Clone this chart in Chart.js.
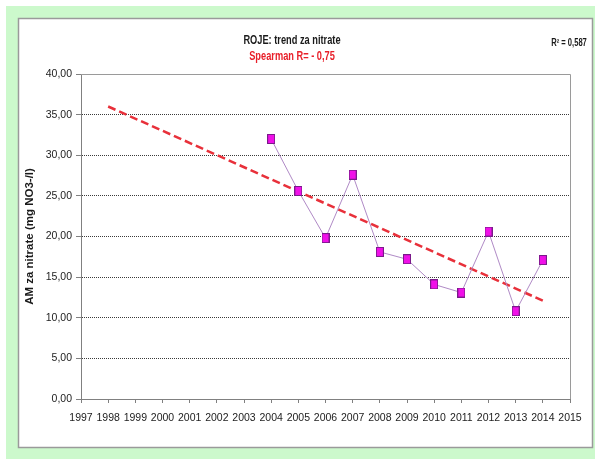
<!DOCTYPE html>
<html>
<head>
<meta charset="utf-8">
<title>ROJE: trend za nitrate</title>
<script src="https://cdn.jsdelivr.net/npm/chart.js@4"></script>
<style>
  html, body { margin: 0; padding: 0; background: #ffffff; }
  canvas { display: block; }
</style>
</head>
<body>
<canvas id="chart" width="595" height="459"></canvas>
<script>
// Annual mean nitrate at ROJE and the fitted linear trend
const years = [2004, 2005, 2006, 2007, 2008, 2009, 2010, 2011, 2012, 2013, 2014];
const nitrate = [32.0, 25.6, 19.8, 27.6, 18.1, 17.2, 14.1, 13.1, 20.6, 10.8, 17.1];
const trendYears = [1998, 2014];
const trendValues = [36.0, 12.1];

const titleText = 'ROJE: trend za nitrate';
const subtitleText = 'Spearman R= - 0,75';
const rSquaredText = 'R\u00B2 = 0,587';
const yAxisTitle = 'AM za nitrate (mg NO3-/l)';

const SANS = "'Liberation Sans', Arial, sans-serif";

// Rectangular magenta marker used for the measured points
function makeMarker() {
  const c = document.createElement('canvas');
  c.width = 8; c.height = 10;
  const g = c.getContext('2d');
  g.fillStyle = '#7a1a8a';
  g.fillRect(0, 0, 8, 10);
  g.fillStyle = '#f010e8';
  g.fillRect(1, 1, 6, 8);
  return c;
}

// Draws condensed text centred on (x, y)
function narrowText(ctx, text, x, y, font, color, squeeze) {
  ctx.save();
  ctx.translate(x, y);
  ctx.scale(squeeze, 1);
  ctx.font = font;
  ctx.fillStyle = color;
  ctx.textAlign = 'center';
  ctx.textBaseline = 'middle';
  ctx.fillText(text, 0, 0);
  ctx.restore();
}

// Sheet background, white panel, plot frame and headings
const decor = {
  id: 'decor',
  beforeDraw(chart) {
    const ctx = chart.ctx;
    ctx.save();
    ctx.fillStyle = '#ffffff';
    ctx.fillRect(0, 0, chart.width, chart.height);
    ctx.fillStyle = '#ccf9cc';
    ctx.fillRect(6, 6, chart.width - 6, chart.height - 6);
    ctx.fillStyle = '#ffffff';
    ctx.fillRect(18, 18, 575, 430);
    ctx.strokeStyle = '#9a9a9a';
    ctx.lineWidth = 1.5;
    ctx.strokeRect(18.5, 18.5, 574, 429);
    ctx.restore();
  },
  beforeDatasetsDraw(chart) {
    const ctx = chart.ctx;
    const a = chart.chartArea;
    ctx.save();
    ctx.strokeStyle = '#9a9a9a';
    ctx.lineWidth = 1;
    ctx.beginPath();
    ctx.moveTo(a.left, Math.round(a.top) + 0.5);
    ctx.lineTo(Math.round(a.right) + 0.5, Math.round(a.top) + 0.5);
    ctx.lineTo(Math.round(a.right) + 0.5, a.bottom);
    ctx.stroke();
    ctx.restore();
  },
  afterDraw(chart) {
    const ctx = chart.ctx;
    narrowText(ctx, titleText, 292, 41, 'bold 12.5px ' + SANS, '#1a1a1a', 0.74);
    narrowText(ctx, subtitleText, 292, 57, 'bold 12.5px ' + SANS, '#e8202a', 0.74);
    narrowText(ctx, rSquaredText, 569, 43, 'bold 10px ' + SANS, '#1a1a1a', 0.76);
  }
};

new Chart(document.getElementById('chart'), {
  type: 'line',
  data: {
    datasets: [
      {
        label: 'AM',
        data: years.map((y, i) => ({ x: y, y: nitrate[i] })),
        borderColor: '#b08ac6',
        borderWidth: 1,
        pointStyle: makeMarker(),
        pointRadius: 5,
        pointHoverRadius: 5,
        tension: 0,
        order: 1
      },
      {
        label: 'trend',
        data: trendYears.map((y, i) => ({ x: y, y: trendValues[i] })),
        borderColor: '#e8303a',
        borderWidth: 2.5,
        borderDash: [8, 4],
        pointRadius: 0,
        tension: 0,
        order: 2
      }
    ]
  },
  plugins: [decor],
  options: {
    responsive: false,
    devicePixelRatio: 1,
    animation: false,
    events: [],
    layout: { padding: { top: 74, right: 25, bottom: 0, left: 0 } },
    plugins: {
      legend: { display: false },
      tooltip: { enabled: false },
      title: { display: false }
    },
    scales: {
      x: {
        type: 'linear',
        min: 1997,
        max: 2015,
        afterFit(s) { s.height = 60; },
        ticks: {
          stepSize: 1,
          autoSkip: false,
          maxRotation: 0,
          padding: 9,
          color: '#222222',
          font: { family: SANS, size: 10.5 },
          callback: v => String(v)
        },
        grid: {
          drawOnChartArea: false,
          drawTicks: true,
          tickLength: 4,
          tickColor: '#808080'
        },
        border: { display: true, color: '#808080', width: 1 }
      },
      y: {
        min: 0,
        max: 40,
        afterFit(s) { s.width = 81; },
        ticks: {
          stepSize: 5,
          padding: 4,
          color: '#222222',
          font: { family: SANS, size: 10.5 },
          callback: v => v.toFixed(2).replace('.', ',')
        },
        grid: {
          color: ctx => (ctx.tick && (ctx.tick.value === 0 || ctx.tick.value === 40)) ? 'rgba(0,0,0,0)' : '#3a3a3a',
          lineWidth: 1,
          tickLength: 5,
          tickColor: '#808080'
        },
        border: { display: true, color: '#808080', width: 1, dash: [1, 1] },
        title: {
          display: true,
          text: yAxisTitle,
          color: '#1a1a1a',
          font: { family: SANS, size: 11.5, weight: 'bold' },
          padding: { top: 23, bottom: 0 }
        }
      }
    }
  }
});
</script>
</body>
</html>
